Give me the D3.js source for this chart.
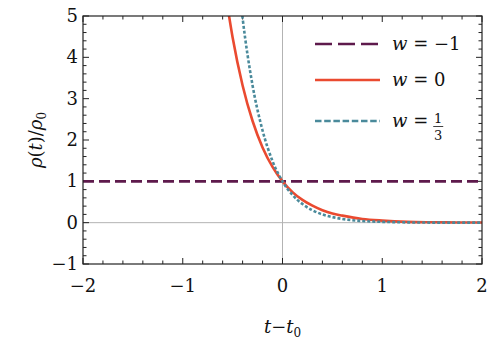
<!DOCTYPE html>
<html>
<head>
<meta charset="utf-8">
<script src="https://cdn.jsdelivr.net/npm/d3@7"></script>
<style>
  body { margin: 0; background: #fff; }
  svg text { font-family: "DejaVu Serif", "Liberation Serif", serif; }
</style>
</head>
<body>
<div id="chart"></div>
<script>
// values
var tRed  = [-0.56, -0.5, -0.4, -0.3, -0.2, -0.1, 0, 0.1, 0.2, 0.3, 0.4, 0.5, 0.6, 0.8, 1.0, 1.25, 1.5, 1.75, 2.0];
var wZero = [5.37, 4.48, 3.32, 2.46, 1.82, 1.35, 1, 0.74, 0.55, 0.41, 0.30, 0.22, 0.17, 0.09, 0.05, 0.02, 0.01, 0.005, 0.0025];
var tBlue = [-0.42, -0.4, -0.3, -0.2, -0.1, 0, 0.1, 0.2, 0.3, 0.4, 0.5, 0.6, 0.8, 1.0, 1.25, 1.5, 1.75, 2.0];
var wThird = [5.37, 4.95, 3.32, 2.23, 1.49, 1, 0.67, 0.45, 0.30, 0.20, 0.135, 0.09, 0.04, 0.02, 0.007, 0.002, 0.001, 0.0003];
var tFlat = [-2, 2];
var wMinus = [1, 1];
var xTicks = [-2, -1, 0, 1, 2];
var yTicks = [-1, 0, 1, 2, 3, 4, 5];

var W = 498, H = 347;
var margin = {top: 16, right: 16, bottom: 84, left: 83};

var svg = d3.select("#chart").append("svg")
    .attr("width", W).attr("height", H);

var x = d3.scaleLinear().domain([-2, 2]).range([margin.left, W - margin.right]);
var y = d3.scaleLinear().domain([-1, 5]).range([H - margin.bottom + 1, margin.top]);

svg.append("clipPath").attr("id", "clip")
  .append("rect")
    .attr("x", x(-2)).attr("y", y(5))
    .attr("width", x(2) - x(-2)).attr("height", y(-1) - y(5));

// axes through origin
svg.append("line")
    .attr("x1", x(0)).attr("x2", x(0)).attr("y1", y(-1)).attr("y2", y(5))
    .attr("stroke", "#b3b3b3").attr("stroke-width", 1);
svg.append("line")
    .attr("x1", x(-2)).attr("x2", x(2)).attr("y1", y(0)).attr("y2", y(0))
    .attr("stroke", "#b3b3b3").attr("stroke-width", 1);

//ticks on all four sides, major at integers, minor every 0.2
function minor(lo, hi) {
  return d3.range(lo * 5, hi * 5 + 1).map(function(d) { return d / 5; });
}
var xm = minor(-2, 2), ym = minor(-1, 5);
var g = svg.append("g").attr("stroke", "#222").attr("stroke-width", 1);
xm.forEach(function(v) {
  var len = Number.isInteger(v) ? 6 : 3.5;
  g.append("line").attr("x1", x(v)).attr("x2", x(v)).attr("y1", y(-1)).attr("y2", y(-1) - len);
  g.append("line").attr("x1", x(v)).attr("x2", x(v)).attr("y1", y(5)).attr("y2", y(5) + len);
});
ym.forEach(function(v) {
  var len = Number.isInteger(v) ? 6 : 3.5;
  g.append("line").attr("x1", x(-2)).attr("x2", x(-2) + len).attr("y1", y(v)).attr("y2", y(v));
  g.append("line").attr("x1", x(2)).attr("x2", x(2) - len).attr("y1", y(v)).attr("y2", y(v));
});

// curves
var line = d3.line().x(function(d) { return x(d[0]); }).y(function(d) { return y(d[1]); })
    .curve(d3.curveMonotoneX);
var plot = svg.append("g").attr("clip-path", "url(#clip)");

plot.append("path")
    .attr("d", line(d3.zip(tFlat, wMinus)))
    .attr("fill", "none").attr("stroke", "#5e1a4c").attr("stroke-width", 2.6)
    .attr("stroke-dasharray", "11,5");
plot.append("path")
    .attr("d", line(d3.zip(tRed, wZero)))
    .attr("fill", "none").attr("stroke", "#ea4a30").attr("stroke-width", 2.6);
plot.append("path")
    .attr("d", line(d3.zip(tBlue, wThird)))
    .attr("fill", "none").attr("stroke", "#4a8a9b").attr("stroke-width", 2.6)
    .attr("stroke-dasharray", "3,2");

// frame
svg.append("rect")
    .attr("x", x(-2)).attr("y", y(5))
    .attr("width", x(2) - x(-2)).attr("height", y(-1) - y(5))
    .attr("fill", "none").attr("stroke", "#222").attr("stroke-width", 1.2);

// tick labels
function fmt(v) { return v < 0 ? "\u2212" + Math.abs(v) : String(v); }
svg.selectAll(".xl").data(xTicks).enter().append("text")
    .attr("x", function(d) { return x(d); })
    .attr("y", 292)
    .attr("text-anchor", "middle")
    .attr("fill", "#111")
    .style("font-size", "18px")
    .text(fmt);
svg.selectAll(".yl").data(yTicks).enter().append("text")
    .attr("x", 78)
    .attr("y", function(d) { return y(d) + 6; })
    .attr("text-anchor", "end")
    .attr("fill", "#111")
    .style("font-size", "18px")
    .text(fmt);

// x axis label
var xl = svg.append("text").attr("x", x(0)).attr("y", 333)
    .attr("text-anchor", "middle").attr("fill", "#111").style("font-size", "18px");
xl.append("tspan").style("font-style", "italic").text("t");
xl.append("tspan").text("\u2212");
xl.append("tspan").style("font-style", "italic").text("t");
xl.append("tspan").attr("dy", 4).style("font-size", "12px").text("0");

// y axis label
var yl = svg.append("text")
    .attr("transform", "translate(42," + ((y(5) + y(-1)) / 2) + ") rotate(-90)")
    .attr("text-anchor", "middle").attr("fill", "#111").style("font-size", "18px");
yl.append("tspan").style("font-style", "italic").text("\u03c1");
yl.append("tspan").text("(");
yl.append("tspan").style("font-style", "italic").text("t");
yl.append("tspan").text(")/");
yl.append("tspan").style("font-style", "italic").text("\u03c1");
yl.append("tspan").attr("dy", 4).style("font-size", "12px").text("0");

// legend
var legend = [
  {color: "#5e1a4c", dash: "17,6", rest: " = \u22121", y: 44},
  {color: "#ea4a30", dash: null, rest: " = 0", y: 80},
  {color: "#4a8a9b", dash: "6.5,2.7", rest: " =", y: 121}
];
var lastText;
legend.forEach(function(l) {
  svg.append("line")
      .attr("x1", 315).attr("x2", 380).attr("y1", l.y).attr("y2", l.y)
      .attr("stroke", l.color).attr("stroke-width", 2.6)
      .attr("stroke-dasharray", l.dash);
  var t = svg.append("text").attr("x", 392).attr("y", l.y + 6)
      .attr("fill", "#111").style("font-size", "18px");
  t.append("tspan").style("font-style", "italic").text("w");
  t.append("tspan").text(l.rest);
  lastText = t;
});
// fraction 1/3 placed after the last legend text
var fx = 392 + lastText.node().getComputedTextLength() + 10;
svg.append("text").attr("x", fx).attr("y", 123).attr("text-anchor", "middle")
    .attr("fill", "#111").style("font-size", "13px").text("1");
svg.append("line").attr("x1", fx - 5).attr("x2", fx + 5).attr("y1", 126.5).attr("y2", 126.5)
    .attr("stroke", "#111").attr("stroke-width", 0.8);
svg.append("text").attr("x", fx).attr("y", 140).attr("text-anchor", "middle")
    .attr("fill", "#111").style("font-size", "13px").text("3");
</script>
</body>
</html>
